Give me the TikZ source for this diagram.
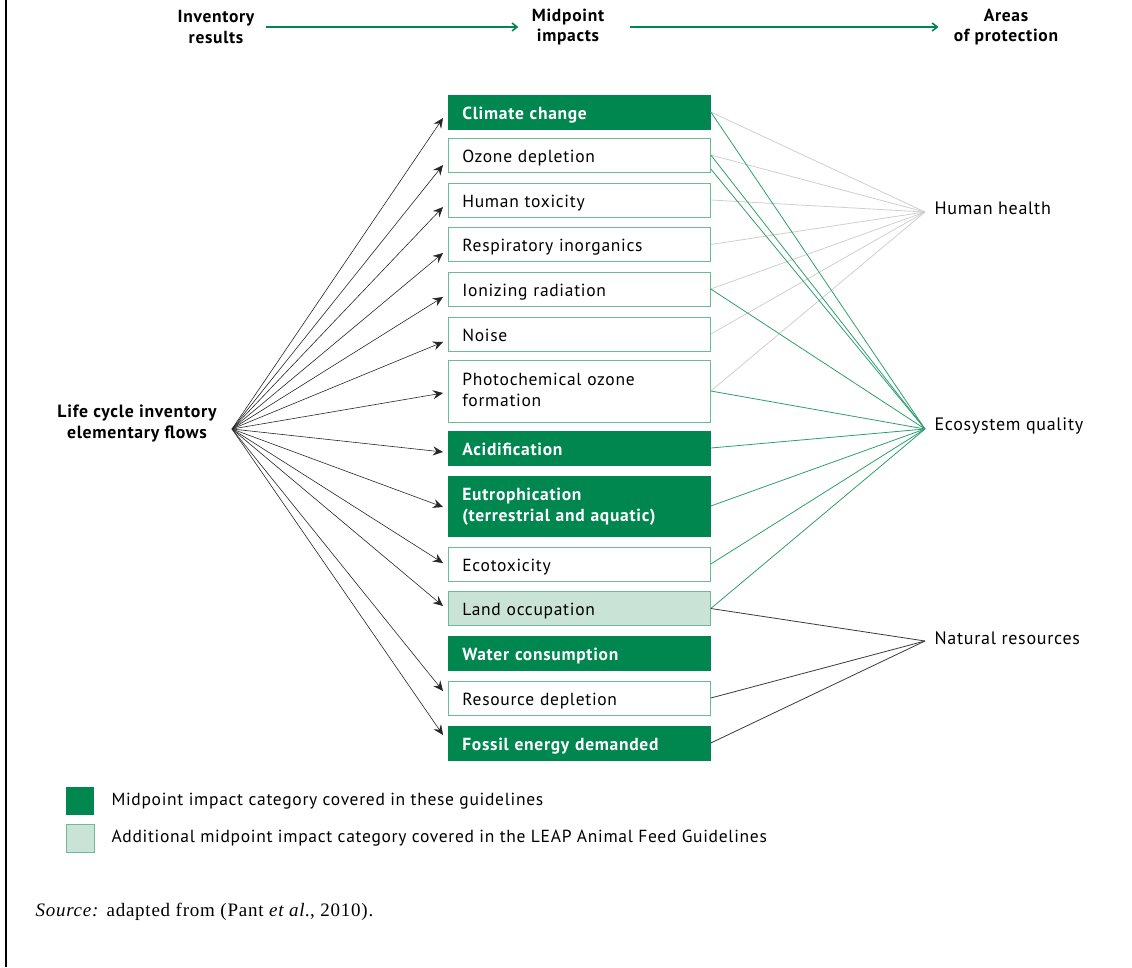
\documentclass[tikz,border=0pt]{standalone}
\usepackage{fontspec}
\setmainfont{PT Sans}[LetterSpace=4]
\newfontfamily\srcfont{Liberation Serif}[LetterSpace=4]
\usetikzlibrary{arrows.meta}

\definecolor{leapgreen}{HTML}{00874F}
\definecolor{leaplight}{HTML}{C9E4D6}
\definecolor{boxedge}{HTML}{6BBB98}
\definecolor{ecoline}{HTML}{2E9E6E}
\definecolor{hhline}{HTML}{CFCFCF}
\definecolor{nrline}{HTML}{3A3A3A}

\begin{document}
\begin{tikzpicture}[x=1pt,y=-1pt,
  font=\fontsize{17.5}{21}\selectfont,
  cat/.style={draw=boxedge, line width=0.8pt, fill=white, minimum height=34pt,
    text width=234pt, inner xsep=14pt, inner ysep=0pt, align=left, anchor=west, text=black,
    font=\fontsize{17.5}{21.5}\selectfont, text height=14.6pt, text depth=0pt},
  twoline/.style={text depth=26.6pt},
  covered/.style={cat, draw=leapgreen, fill=leapgreen, text=white,
    font=\fontsize{17.5}{21.5}\selectfont\bfseries},
  extra/.style={cat, fill=leaplight},
  heading/.style={font=\fontsize{17.5}{20.5}\selectfont\bfseries, align=center},
  headarrow/.style={draw=leapgreen, line width=1.6pt, -{Straight Barb[length=5pt,width=8pt]}},
  flow/.style={draw=black!85, line width=0.6pt, -{Stealth[length=10pt,width=9pt,inset=3.5pt]}},
  hhlink/.style={draw=hhline, line width=0.8pt},
  eqlink/.style={draw=ecoline, line width=0.8pt},
  nrlink/.style={draw=nrline, line width=0.8pt},
  aop/.style={anchor=west, font=\fontsize{18}{21}\selectfont},
  legendbox/.style={minimum size=28pt, inner sep=0pt}
]
\useasboundingbox (0,0) rectangle (1132,967);

% frame rule on the left
\draw[line width=1.3pt] (6,0) -- (6,967);

% column headings
\node[heading] (hinv) at (216,27) {Inventory\\results};
\node[heading] (hmid) at (568,27) {Midpoint\\impacts};
\node[heading] (haop) at (1006,27) {Areas\\of protection};
\draw[headarrow, shorten <=8pt, shorten >=10pt] (hinv.east) -- (hmid.west);
\draw[headarrow, shorten <=22pt, shorten >=12pt] (hmid.east) -- (haop.west);

% midpoint impact categories
\node[covered] (clim)  at (448,112) {Climate change};
\node[cat]     (ozone) at (448,155) {Ozone depletion};
\node[cat]     (htox)  at (448,200) {Human toxicity};
\node[cat]     (resp)  at (448,244.5) {Respiratory inorganics};
\node[cat]     (ion)   at (448,289) {Ionizing radiation};
\node[cat]     (noise) at (448,334) {Noise};
\node[cat, twoline, minimum height=62pt] (photo) at (448,391) {Photochemical ozone\\formation};
\node[covered] (acid)  at (448,448) {Acidification};
\node[covered, twoline, minimum height=60pt] (eutro) at (448,506) {Eutrophication\\(terrestrial and aquatic)};
\node[cat]     (ecotox) at (448,564) {Ecotoxicity};
\node[extra]   (land)  at (448,608.5) {Land occupation};
\node[covered] (water) at (448,653) {Water consumption};
\node[cat]     (res)   at (448,698) {Resource depletion};
\node[covered] (fossil) at (448,743) {Fossil energy demanded};

% inventory source
\node[heading, font=\fontsize{17.75}{21}\selectfont\bfseries] (lci) at (137,424) {Life cycle inventory\\elementary flows};
\coordinate (src) at (232,429);

\foreach \n/\dy in {clim/-6, ozone/-10, htox/-7, resp/-8.5, ion/-8, noise/-8,
                    photo/-2, acid/-4, eutro/-1, ecotox/1, land/2.5, res/7, fossil/8}
  \draw[flow] (src) -- ([xshift=-5pt,yshift=\dy pt]\n.west);

% areas of protection
\coordinate (hh) at (925,212);
\coordinate (eq) at (925,429);
\coordinate (nr) at (925,641);
\node[aop] (hhlabel) at (931,208) {Human health};
\node[aop] (eqlabel) at (931,426) {Ecosystem quality};
\node[aop] (nrlabel) at (931,638) {Natural resources};

% links to human health
\foreach \n in {clim, ozone, htox, resp, ion, noise, photo}
  \draw[hhlink] (\n.east) -- (hh);

% links to ecosystem quality
\foreach \n in {clim, ozone, ion, photo, acid, eutro, ecotox, land}
  \draw[eqlink] (\n.east) -- (eq);
\draw[eqlink] ([yshift=-14pt]ozone.east) -- (eq);

% links to natural resources
\foreach \n in {land, res, fossil}
  \draw[nrlink] (\n.east) -- (nr);

% legend
\node[legendbox, fill=leapgreen] (keyA) at (80,801) {};
\node[legendbox, fill=leaplight, draw=boxedge, line width=0.8pt] (keyB) at (80,838.5) {};
\node[anchor=west] (keyAtext) at (108,801)
  {Midpoint impact category covered in these guidelines};
\node[anchor=west] (keyBtext) at (108,838.5)
  {Additional midpoint impact category covered in the LEAP Animal Feed Guidelines};

% source line
\node[anchor=west, font=\srcfont\fontsize{19}{22}\selectfont] (source) at (32,912)
  {\textit{Source:} adapted from (Pant \textit{et al.}, 2010).};
\end{tikzpicture}
\end{document}
